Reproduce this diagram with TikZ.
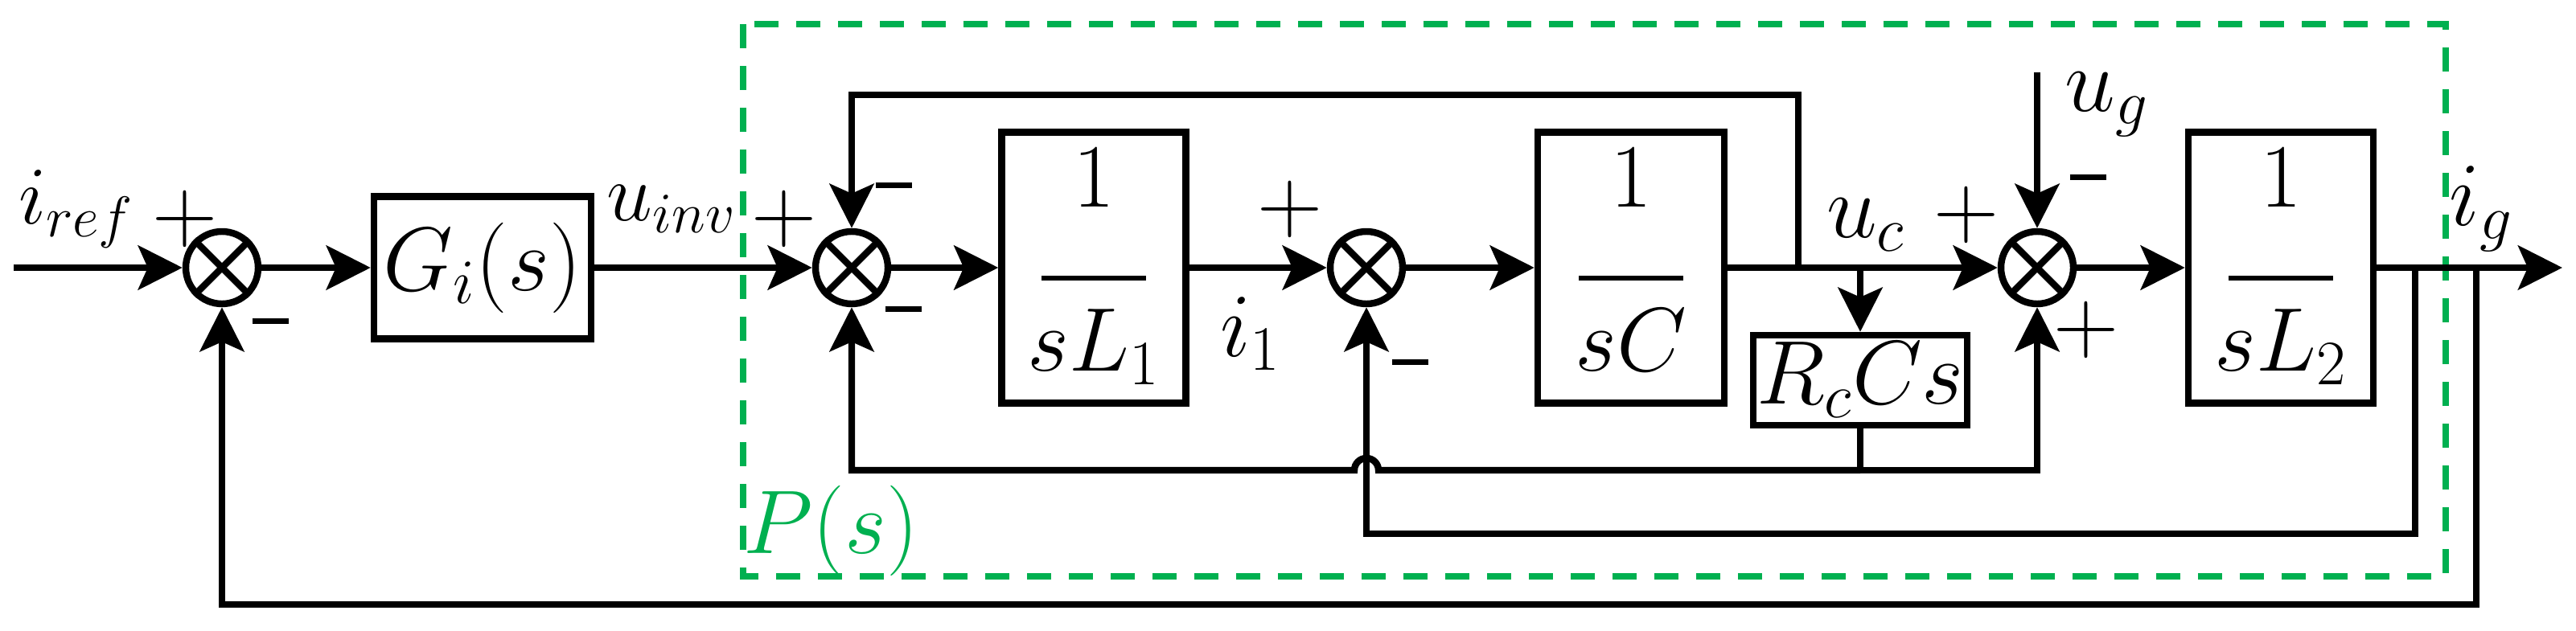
\documentclass[tikz,border=0pt]{standalone}
\usepackage{amsmath}
\usepackage{fix-cm}
\usetikzlibrary{arrows.meta}
\definecolor{pgreen}{RGB}{0,176,80}
\newcommand{\frc}[1]{\begin{tabular}{@{}c@{}}$1$\\[-12pt]\rule{1.3cm}{1.8pt}\\[-6pt]$#1$\end{tabular}}
\newcommand{\mn}{\raisebox{0.18em}{\rule{0.45cm}{2pt}}}

\begin{document}
\begin{tikzpicture}[font=\fontsize{32}{38}\selectfont]
            \tikzstyle{line}=[draw=black,line width=2.4pt]
            \tikzstyle{arr}=[line,-{Stealth[length=0.55cm,width=0.55cm,inset=0.12cm]}]
            \tikzstyle{block}=[rectangle,draw=black,line width=2.4pt,inner sep=0pt]
            \tikzstyle{sum}=[circle,draw=black,line width=2.4pt,minimum size=0.9cm,inner sep=0pt]
            \tikzstyle{lbl}=[inner sep=0pt,font=\fontsize{29}{34}\selectfont]

            \useasboundingbox (0,0) rectangle (32.03,-7.85);

            \def\m{-3.33}

            % border of the plant
            \draw[pgreen,line width=2.4pt,dash pattern=on 0.3cm off 0.22cm] (9.24,-0.3) rectangle (30.41,-7.17);
            \node[pgreen] (ps) at (10.33,-6.6) {$P(s)$};

            \coordinate (in)  at (0.17,\m);
            \node[sum] (s1) at (2.76,\m) {};
            \node[block,minimum width=2.7cm,minimum height=1.77cm] (gi) at (6.0,\m) {$G_i(s)$};
            \node[sum] (s2) at (10.59,\m) {};
            \node[block,minimum width=2.29cm,minimum height=2.95cm] (l1) at (13.6,\m) {\frc{sL_1}};
            \node[sum] (s3) at (16.99,\m) {};
            \node[block,minimum width=2.32cm,minimum height=2.95cm] (c) at (20.28,\m) {\frc{sC}};
            \node[block,minimum width=2.66cm,minimum height=1.12cm] (rc) at (23.13,-4.73) {$R_cCs$};
            \node[sum] (s4) at (25.33,\m) {};
            \node[block,minimum width=2.3cm,minimum height=2.95cm] (l2) at (28.36,\m) {\frc{sL_2}};
            \coordinate (out) at (31.86,\m);
            \coordinate (ug)  at (25.33,-0.9);

            \foreach \s in {s1,s2,s3,s4}
                \draw[line] (\s.north west) -- (\s.south east) (\s.north east) -- (\s.south west);

            % forward path
            \path[arr] (in) -- (s1);
            \path[arr] (s1) -- (gi);
            \path[arr] (gi) -- (s2);
            \path[arr] (s2) -- (l1);
            \path[arr] (l1) -- (s3);
            \path[arr] (s3) -- (c);
            \path[arr] (c) -- (s4);
            \path[arr] (s4) -- (l2);
            \path[arr] (l2) -- (out);
            \path[arr] (ug) -- (s4);

            % inner loops
            \coordinate (b1) at (22.36,\m);
            \coordinate (b2) at (23.13,\m);
            \coordinate (b3) at (23.13,-5.85);
            \coordinate (b4) at (30.03,\m);
            \coordinate (b5) at (30.79,\m);
            \path[arr] (b1) -- (22.36,-1.18) -| (s2);
            \path[arr] (b2) -- (rc);
            \path[arr] (rc) -- (b3) -| (s4);
            \path[arr] (b3) -- (17.14,-5.85) arc (0:180:0.15) -| (s2);
            \path[arr] (b4) -- (30.03,-6.64) -| (s3);
            \path[arr] (b5) -- (30.79,-7.52) -| (s1);

            % labels
            \node[lbl] at (0.95,-2.6) {$i_{ref}$};
            \node at (2.3,-2.72) {$+$};
            \node at (3.36,-4.1) {\mn};
            \node[lbl] at (8.35,-2.6) {$u_{inv}$};
            \node at (9.75,-2.72) {$+$};
            \node at (11.11,-2.41) {\mn};
            \node at (11.23,-3.95) {\mn};
            \node at (15.55,-4.15) {$i_1$};
            \node at (16.04,-2.6) {$+$};
            \node at (17.53,-4.61) {\mn};
            \node at (23.2,-2.8) {$u_c$};
            \node at (24.45,-2.67) {$+$};
            \node at (25.96,-2.31) {\mn};
            \node at (25.94,-4.1) {$+$};
            \node at (26.2,-1.3) {$u_g$};
            \node at (30.85,-2.6) {$i_g$};
\end{tikzpicture}
\end{document}
